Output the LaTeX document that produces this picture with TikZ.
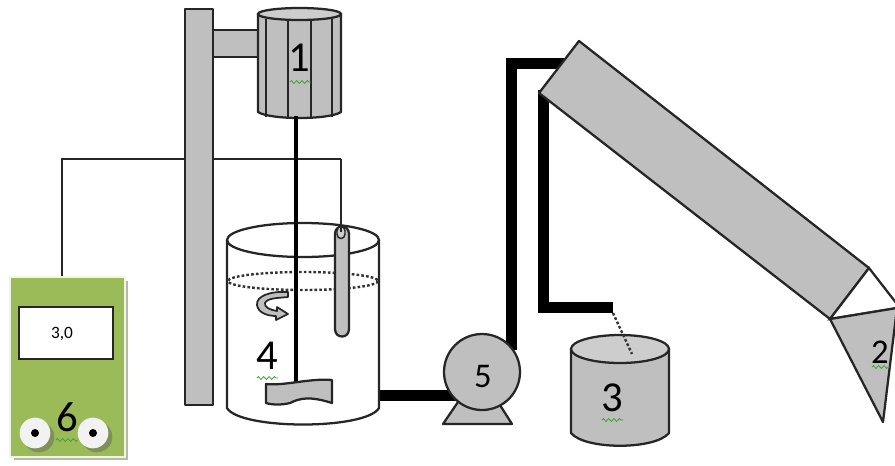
\documentclass[tikz,border=0pt]{standalone}
\usepackage{fontspec}
\setmainfont{Carlito}
\usetikzlibrary{decorations.pathmorphing}
\definecolor{partgray}{HTML}{BFBFBF}
\definecolor{lidgray}{HTML}{CDCDCD}
\definecolor{metergreen}{HTML}{9BBB59}
\definecolor{squiggle}{HTML}{3FA535}
\definecolor{metershadow}{HTML}{B3BBA3}
\definecolor{rollershade}{HTML}{7F9058}
\tikzset{
  part/.style={draw=black!85,line width=1.7pt,fill=partgray,line join=round},
  lid/.style={draw=black!85,line width=1.7pt,fill=lidgray},
  outline/.style={draw=black!85,line width=1.7pt},
  dotline/.style={draw=black!80,line width=1.8pt,dash pattern=on 2pt off 1.6pt},
  pipe/.style={draw=black,line width=8.2pt,line join=miter},
  shaft/.style={draw=black,line width=3.4pt},
  wire/.style={draw=black!85,line width=1.3pt},
  biglabel/.style={inner sep=0pt,font=\fontsize{32}{32}\selectfont},
  midlabel/.style={inner sep=0pt,font=\fontsize{26}{26}\selectfont},
  squig/.style={draw=squiggle,line width=.6pt,decorate,decoration={zigzag,amplitude=1.1pt,segment length=4pt}},
  roller/.style={circle,fill=black!5,minimum size=23pt,inner sep=0pt},
  rollershadow/.style={circle,fill=rollershade,minimum size=23pt,inner sep=0pt},
  hub/.style={circle,fill=black,minimum size=6pt,inner sep=0pt},
}
\begin{document}
\begin{tikzpicture}[x=0.75pt,y=-0.75pt]
\useasboundingbox (0,0) rectangle (895,465);
\fill[white] (0,0) rectangle (895,465);
% named anchors
\coordinate (wireMeter) at (62,279);
\coordinate (wireCorner1) at (62,159);
\coordinate (wireCorner2) at (341,159);
\coordinate (wireProbe) at (341,232);
\coordinate (tankOut) at (380,395.5);
\coordinate (pumpIn) at (460,395.5);
\coordinate (pumpOut) at (511.5,350);
\coordinate (pipeTop) at (511.5,63.5);
\coordinate (pipeInlet) at (575,63.5);
\coordinate (drainTop) at (543.5,90);
\coordinate (drainCorner) at (543.5,307.5);
\coordinate (drainEnd) at (613,307.5);
\coordinate (dripStart) at (613,313);
\coordinate (dripEnd) at (632,354);
\coordinate (shaftTop) at (296,116);
\coordinate (shaftEnd) at (296,384);
% wire
\draw[wire] (wireMeter) -- (wireCorner1) -- (wireCorner2);
% stand
\path[part] (213,30) rectangle (258,57);
\path[part] (185,9) rectangle (213,405);
% motor
\path[part] (258,14) -- (258,112) .. controls (270,120) and (329,120) .. (341,112) -- (341,14) -- cycle;
\path[lid] (299.5,14) ellipse [x radius=41.5,y radius=6];
\foreach \xa in {266,288,311,332}
  \draw[outline] (\xa,19) -- (\xa,117);
% tank 4
\draw[outline,fill=white] (227,240) -- (227,408) .. controls (240,430) and (366,430) .. (379,408) -- (379,240);
\draw[outline] (303,240) ellipse [x radius=76,y radius=17];
\draw[dotline] (303,281) ellipse [x radius=75,y radius=9];
% probe
\path[part] (335,234) .. controls (335,224) and (349,224) .. (349,234) -- (349,329) .. controls (349,339) and (335,339) .. (335,329) -- cycle;
\draw[draw=black!85,line width=1.1pt,fill=lidgray] (337,231) .. controls (337,225) and (345,225) .. (345,231) -- (345,234) .. controls (345,240) and (337,240) .. (337,234) -- cycle;
\draw[wire] (wireCorner2) -- (wireProbe);
% shaft and impeller
\draw[shaft] (shaftTop) -- (shaftEnd);
\path[part] (266,384) .. controls (285,386) and (310,378) .. (332,380) -- (332,403) .. controls (310,396) and (300,398) .. (290,403) .. controls (282,405) and (272,405) .. (266,403) -- cycle;
% rotation arrow
\path[draw=black!85,line width=1.3pt,fill=partgray,line join=round]
 (288,292) .. controls (270,291) and (256,296) .. (257,305)
 .. controls (258,313) and (268,316) .. (276,316) -- (276,320) -- (288,314) -- (277,307) -- (277,311)
 .. controls (270,310) and (264,307) .. (265,303) .. controls (267,298) and (278,298) .. (288,297) -- cycle;
% pipes
\draw[pipe] (tankOut) -- (pumpIn);
\draw[pipe] (pumpOut) -- (pipeTop) -- (pipeInlet);
\draw[pipe] (drainTop) -- (drainCorner) -- (drainEnd);
% pump
\path[part] (458,402) -- (443,424) -- (512,424) -- (498,402) -- cycle;
\path[part] (482,372) circle [radius=38];
% tank 3
\path[part] (571,349) -- (571,433) .. controls (585,450) and (655,450) .. (669,433) -- (669,349) -- cycle;
\path[lid] (620,349) ellipse [x radius=49,y radius=14];
\draw[dotline] (dripStart) -- (dripEnd);
% column 
\path[part] (579,41) -- (539,93) -- (830,319) -- (869,268) -- cycle;
\path[outline,fill=white] (830,319) -- (869,268) -- (897,304) -- (897,308) -- cycle;
\path[part] (830,319) -- (897,308) -- (883,422) -- cycle;
% meter
\fill[metershadow] (14,281) rectangle (128,460);
\path[draw=white!85!metergreen,line width=1pt,fill=metergreen] (10,277) rectangle (125,457);
\path[draw=black!85,line width=2pt,fill=white] (19,307) rectangle (113,359);
\node[rollershadow] at (39,437) {};
\node[rollershadow] at (97,437) {};
\node[roller] (rollerA) at (35,433) {};
\node[roller] (rollerB) at (93,433) {};
\node[hub] at (rollerA) {};
\node[hub] at (rollerB) {};
% labels
\node[inner sep=0pt,font=\fontsize{13}{13}\selectfont] (reading) at (62,334) {3,0};
\node[biglabel] (lab1) at (299,58) {1};
\node[midlabel] (lab2) at (880,352) {2};
\node[biglabel] (lab3) at (612,398) {3};
\node[biglabel] (lab4) at (267,356) {4};
\node[midlabel] (lab5) at (483,376) {5};
\node[biglabel] (lab6) at (67,417) {6};
% spell-check squiggles
\draw[squig] (290,82) -- (311,82);
\draw[squig] (872,367) -- (890,367);
\draw[squig] (602,420) -- (623,420);
\draw[squig] (257,378) -- (278,378);
\draw[squig] (56,440) -- (78,440);
\end{tikzpicture}
\end{document}
